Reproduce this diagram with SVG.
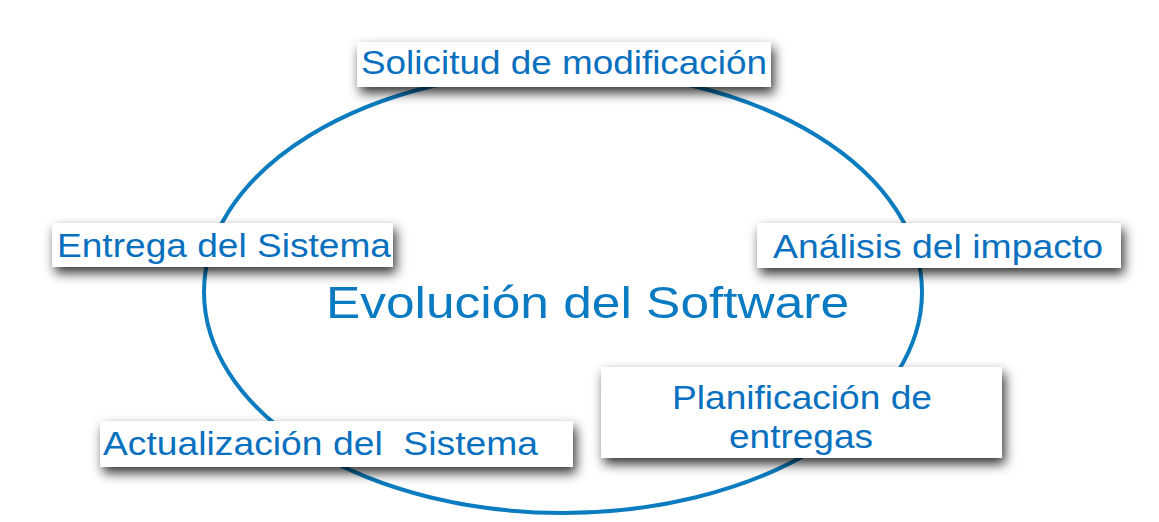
<svg xmlns="http://www.w3.org/2000/svg" width="1159" height="522" viewBox="0 0 1159 522">
<defs>
<filter id="sh" x="-20%" y="-50%" width="140%" height="220%">
<feDropShadow dx="3" dy="6" stdDeviation="6" flood-color="#000" flood-opacity="0.8"/>
</filter>
<style>
.box{fill:#fff;filter:url(#sh)}
.t{font-family:"Liberation Sans",Arial,sans-serif;font-size:34px;fill:#0870BE}
.c{font-family:"Liberation Sans",Arial,sans-serif;font-size:45px;fill:#0A7AC2}
</style>
</defs>
<rect width="1159" height="522" fill="#fff"/>
<g id="connectors">
<ellipse cx="563" cy="292" rx="359" ry="221" fill="none" stroke="#0A7CBF" stroke-width="4"/>
</g>
<g id="center">
<text class="c" x="326" y="318" textLength="523" lengthAdjust="spacingAndGlyphs">Evolución del Software</text>
</g>
<g id="solicitud">
<rect class="box" x="357" y="42" width="414" height="45"/>
<text class="t" x="361" y="74" textLength="406" lengthAdjust="spacingAndGlyphs">Solicitud de modificación</text>
</g>
<g id="entrega">
<rect class="box" x="52" y="223" width="341" height="44"/>
<text class="t" x="57" y="257" textLength="334" lengthAdjust="spacingAndGlyphs">Entrega del Sistema</text>
</g>
<g id="analisis">
<rect class="box" x="757" y="223" width="364" height="45"/>
<text class="t" x="773" y="258" textLength="330" lengthAdjust="spacingAndGlyphs">Análisis del impacto</text>
</g>
<g id="planificacion">
<rect class="box" x="601" y="367" width="401" height="91"/>
<text class="t" x="672" y="409" textLength="260" lengthAdjust="spacingAndGlyphs">Planificación de</text>
<text class="t" x="729" y="448" textLength="144" lengthAdjust="spacingAndGlyphs">entregas</text>
</g>
<g id="actualizacion">
<rect class="box" x="100" y="421" width="473" height="46"/>
<text class="t" x="103" y="455" textLength="435" lengthAdjust="spacingAndGlyphs" xml:space="preserve">Actualización del  Sistema</text>
</g>
</svg>
